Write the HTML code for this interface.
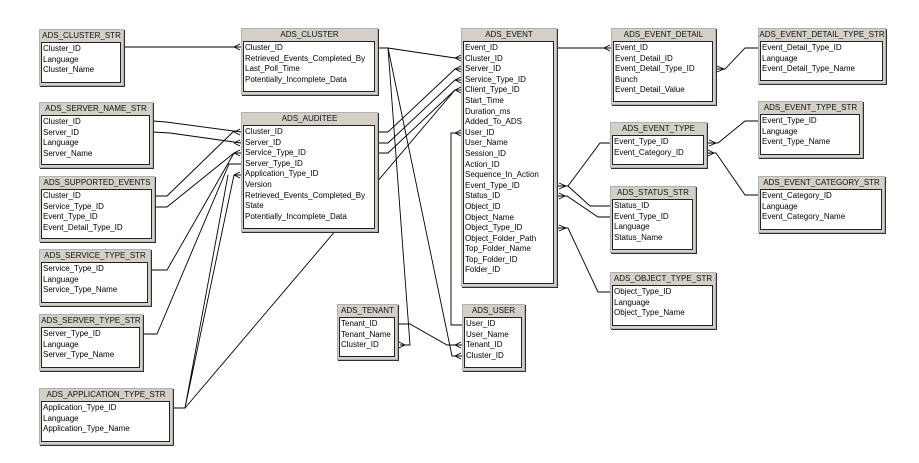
<!DOCTYPE html>
<html><head><meta charset="utf-8"><style>
body{margin:0;width:919px;height:463px;background:#fff;position:relative;overflow:hidden;font-family:"Liberation Sans",sans-serif}
.t{position:absolute;background:#d4d0c8;border:1px solid #b0b0b0;box-shadow:1px 1px 0 #303030;box-sizing:border-box}
.h{height:12px;font-size:8px;line-height:12px;text-align:center;color:#111;white-space:nowrap;overflow:hidden}
.b{position:absolute;left:1px;right:2px;top:12px;bottom:2px;background:#fff;border:1px solid #222;padding:1px 0 0 1px;font-size:8px;line-height:10.6px;color:#000;white-space:nowrap;overflow:hidden}
svg{position:absolute;left:0;top:0}
</style></head><body>
<svg width="919" height="463" fill="none" stroke="#000" stroke-width="0.9">
<!-- CLUSTER_STR -> CLUSTER -->
<path d="M123 47 H241 M234 47 L240 44 M234 47 L240 50"/>
<!-- SERVER_NAME -> AUDITEE -->
<path d="M153 121 L166 122 L241 132 M234 132 L240 129 M234 132 L240 135"/>
<path d="M153 132 L170 133 L241 143 M234 143 L240 140 M234 143 L240 146"/>
<!-- SUPPORTED -->
<path d="M155 196 L167 196 L234 131"/>
<path d="M155 207 L167 207 L234 153"/>
<!-- SERVICE -->
<path d="M150 270 L167 270 L234 153 H241 M234 153 L240 150 M234 153 L240 156"/>
<!-- SERVER TYPE -->
<path d="M143 334 L157 334 L229 164 H241"/>
<!-- APP TYPE -->
<path d="M173 408 L185 408 L228 175 M185 408 L234 175 H241 M234 175 L240 172 M234 175 L240 178"/>
<path d="M185 408 L455 90"/>
<!-- CLUSTER -> EVENT / TENANT / USER -->
<path d="M378 48 L388 48 L455 58 H462 M455 58 L461 55 M455 58 L461 61"/>
<path d="M388 48 L410 345 H400 M405 345 L399 342 M405 345 L399 348"/>
<path d="M388 48 L452 356 H462 M455 356 L461 353 M455 356 L461 359"/>
<!-- AUDITEE -> EVENT -->
<path d="M378 132 H388 L455 69 H462 M455 69 L461 66 M455 69 L461 72"/>
<path d="M378 143 H388 L455 80 H462 M455 80 L461 77 M455 80 L461 83"/>
<path d="M378 153 H388 L455 90 H462 M455 90 L461 87 M455 90 L461 93"/>
<!-- EVENT User_ID -> USER -->
<path d="M462 133 H451 V325 H462 M455 133 L461 130 M455 133 L461 136"/>
<!-- TENANT -> USER -->
<path d="M398 324 H410 L447 345 H462 M455 345 L461 342 M455 345 L461 348"/>
<!-- EVENT -> EVENT_DETAIL -->
<path d="M557 48 H611 M604 48 L610 45 M604 48 L610 51"/>
<!-- EVENT_DETAIL -> EDT_STR -->
<path d="M716 69 H725 L745 48 H758 M724 69 L717 66 M724 69 L717 72"/>
<!-- EVENT_TYPE -> ET_STR / EC_STR -->
<path d="M707 143 H718 L745 121 H758 M716 143 L709 140 M716 143 L709 146"/>
<path d="M707 153 H716 L745 195 H758 M714 153 L708 150 M714 153 L708 156"/>
<!-- EVENT -> EVENT_TYPE -->
<path d="M557 186 H568 L600 143 H611 M566 186 L559 183 M566 186 L559 189"/>
<path d="M568 186 L590 206 H611"/>
<path d="M557 196 H567 L598 217 H611 M565 196 L559 193 M565 196 L559 199"/>
<!-- EVENT -> OBJ -->
<path d="M557 228 H568 L598 292 H611 M566 228 L559 225 M566 228 L559 231"/>
</svg>

<div class="t" style="left:39px;top:29px;width:85px;height:57px"><div class="h">ADS_CLUSTER_STR</div><div class="b">Cluster_ID<br>Language<br>Cluster_Name</div></div>
<div class="t" style="left:241px;top:28px;width:137px;height:67px"><div class="h">ADS_CLUSTER</div><div class="b">Cluster_ID<br>Retrieved_Events_Completed_By<br>Last_Poll_Time<br>Potentially_Incomplete_Data</div></div>
<div class="t" style="left:39px;top:102px;width:114px;height:66px"><div class="h">ADS_SERVER_NAME_STR</div><div class="b">Cluster_ID<br>Server_ID<br>Language<br>Server_Name</div></div>
<div class="t" style="left:241px;top:112px;width:137px;height:120px"><div class="h">ADS_AUDITEE</div><div class="b">Cluster_ID<br>Server_ID<br>Service_Type_ID<br>Server_Type_ID<br>Application_Type_ID<br>Version<br>Retrieved_Events_Completed_By<br>State<br>Potentially_Incomplete_Data</div></div>
<div class="t" style="left:39px;top:176px;width:116px;height:66px"><div class="h">ADS_SUPPORTED_EVENTS</div><div class="b">Cluster_ID<br>Service_Type_ID<br>Event_Type_ID<br>Event_Detail_Type_ID</div></div>
<div class="t" style="left:39px;top:249px;width:112px;height:57px"><div class="h">ADS_SERVICE_TYPE_STR</div><div class="b">Service_Type_ID<br>Language<br>Service_Type_Name</div></div>
<div class="t" style="left:39px;top:314px;width:104px;height:57px"><div class="h">ADS_SERVER_TYPE_STR</div><div class="b">Server_Type_ID<br>Language<br>Server_Type_Name</div></div>
<div class="t" style="left:39px;top:388px;width:134px;height:57px"><div class="h">ADS_APPLICATION_TYPE_STR</div><div class="b">Application_Type_ID<br>Language<br>Application_Type_Name</div></div>
<div class="t" style="left:461px;top:28px;width:96px;height:259px"><div class="h">ADS_EVENT</div><div class="b">Event_ID<br>Cluster_ID<br>Server_ID<br>Service_Type_ID<br>Client_Type_ID<br>Start_Time<br>Duration_ms<br>Added_To_ADS<br>User_ID<br>User_Name<br>Session_ID<br>Action_ID<br>Sequence_In_Action<br>Event_Type_ID<br>Status_ID<br>Object_ID<br>Object_Name<br>Object_Type_ID<br>Object_Folder_Path<br>Top_Folder_Name<br>Top_Folder_ID<br>Folder_ID</div></div>
<div class="t" style="left:611px;top:28px;width:105px;height:77px"><div class="h">ADS_EVENT_DETAIL</div><div class="b">Event_ID<br>Event_Detail_ID<br>Event_Detail_Type_ID<br>Bunch<br>Event_Detail_Value</div></div>
<div class="t" style="left:758px;top:28px;width:128px;height:56px"><div class="h">ADS_EVENT_DETAIL_TYPE_STR</div><div class="b">Event_Detail_Type_ID<br>Language<br>Event_Detail_Type_Name</div></div>
<div class="t" style="left:610px;top:122px;width:97px;height:46px"><div class="h">ADS_EVENT_TYPE</div><div class="b">Event_Type_ID<br>Event_Category_ID</div></div>
<div class="t" style="left:758px;top:101px;width:105px;height:57px"><div class="h">ADS_EVENT_TYPE_STR</div><div class="b">Event_Type_ID<br>Language<br>Event_Type_Name</div></div>
<div class="t" style="left:758px;top:176px;width:127px;height:57px"><div class="h">ADS_EVENT_CATEGORY_STR</div><div class="b">Event_Category_ID<br>Language<br>Event_Category_Name</div></div>
<div class="t" style="left:610px;top:186px;width:86px;height:67px"><div class="h">ADS_STATUS_STR</div><div class="b">Status_ID<br>Event_Type_ID<br>Language<br>Status_Name</div></div>
<div class="t" style="left:610px;top:272px;width:106px;height:57px"><div class="h">ADS_OBJECT_TYPE_STR</div><div class="b">Object_Type_ID<br>Language<br>Object_Type_Name</div></div>
<div class="t" style="left:337px;top:304px;width:61px;height:56px"><div class="h">ADS_TENANT</div><div class="b">Tenant_ID<br>Tenant_Name<br>Cluster_ID</div></div>
<div class="t" style="left:462px;top:304px;width:63px;height:67px"><div class="h">ADS_USER</div><div class="b">User_ID<br>User_Name<br>Tenant_ID<br>Cluster_ID</div></div>
</body></html>
